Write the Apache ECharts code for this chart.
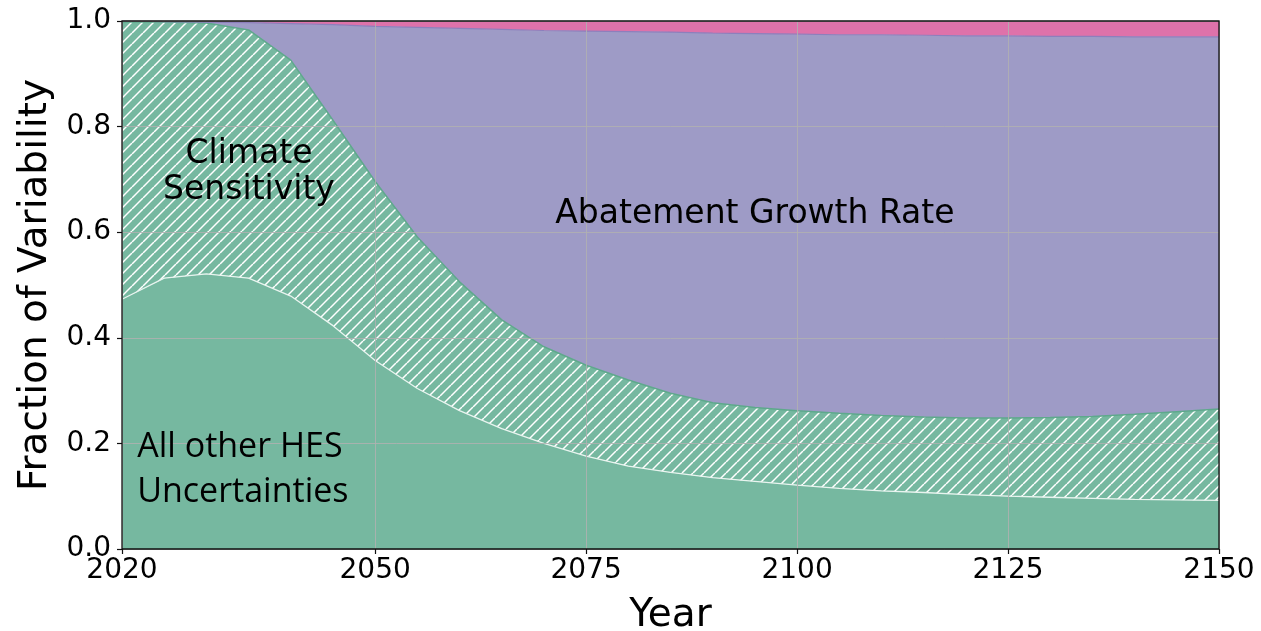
<!DOCTYPE html>
<html>
<head>
<meta charset="utf-8">
<script src="https://cdn.jsdelivr.net/npm/echarts@6/dist/echarts.min.js"></script>
<style>
    html, body { margin: 0; padding: 0; background: #fff; }
    #main { width: 1261px; height: 631px; }
</style>
</head>
<body>
<div id="main"></div>
<script>
'use strict';
// 年份 (every 5 years)
var years = [2020, 2025, 2030, 2035, 2040, 2045, 2050, 2055, 2060, 2065, 2070, 2075, 2080, 2085,
    2090, 2095, 2100, 2105, 2110, 2115, 2120, 2125, 2130, 2135, 2140, 2145, 2150];
// 各来源的方差比例
var hesOther = [0.473, 0.513, 0.521, 0.513, 0.479, 0.423, 0.357, 0.304, 0.262, 0.228, 0.200, 0.176, 0.157, 0.145,
    0.135, 0.128, 0.121, 0.115, 0.110, 0.107, 0.103, 0.100, 0.098, 0.096, 0.094, 0.093, 0.092];
var climateSens = [0.525, 0.485, 0.475, 0.470, 0.447, 0.389, 0.339, 0.287, 0.244, 0.206, 0.183, 0.172, 0.163, 0.150,
    0.142, 0.140, 0.141, 0.142, 0.143, 0.143, 0.145, 0.148, 0.151, 0.155, 0.161, 0.167, 0.173];
var abatement = [0.002, 0.001, 0.002, 0.014, 0.069, 0.181, 0.294, 0.397, 0.480, 0.550, 0.599, 0.633, 0.660, 0.684,
    0.700, 0.708, 0.713, 0.717, 0.721, 0.723, 0.724, 0.724, 0.722, 0.720, 0.715, 0.710, 0.705];
var otherPart = [0.0005, 0.001, 0.002, 0.003, 0.005, 0.007, 0.010, 0.012, 0.014, 0.016, 0.018, 0.019, 0.020, 0.021,
    0.023, 0.024, 0.025, 0.026, 0.026, 0.027, 0.028, 0.028, 0.029, 0.029, 0.030, 0.030, 0.030];
// 坐标轴刻度
var xTicks = [2020, 2050, 2075, 2100, 2125, 2150];

var green = '#76b8a0';
var purple = '#9e9bc6';
var pink = '#de72aa';

// 斜线填充 (hatch tile)
function makeHatch(size) {
    var c = document.createElement('canvas');
    c.width = size;
    c.height = size;
    var ctx = c.getContext('2d');
    ctx.fillStyle = green;
    ctx.fillRect(0, 0, size, size);
    ctx.strokeStyle = '#ffffff';
    ctx.lineWidth = 1.5;
    for (var k = -size; k <= size; k += size) {
        ctx.beginPath();
        ctx.moveTo(k, size);
        ctx.lineTo(k + size, 0);
        ctx.stroke();
    }
    return c;
}

// only the listed years get a tick / label / grid line
function isTick(index) {
    return xTicks.indexOf(years[index]) >= 0;
}

function areaSeries(name, vals, fill, lineColor, lineWidth) {
    return {
        name: name,
        type: 'line',
        stack: 'total',
        showSymbol: false,
        symbol: 'none',
        data: vals,
        lineStyle: { color: lineColor, width: lineWidth },
        areaStyle: { color: fill, opacity: 1 },
        emphasis: { disabled: true }
    };
}

var font = 'DejaVu Sans';
var gridLine = { show: true, lineStyle: { color: 'rgba(176,176,176,0.85)', width: 1 } };

var option = {
    animation: false,
    grid: {
        left: 122, right: 42, top: 21, bottom: 82,
        outerBoundsMode: 'none',
        containLabel: false,
        show: true,
        borderColor: '#111',
        borderWidth: 1.3,
        z: 10
    },
    xAxis: {
        type: 'category',
        data: years,
        boundaryGap: false,
        z: 5,
        name: 'Year',
        nameLocation: 'middle',
        nameGap: 47,
        nameTextStyle: { fontFamily: font, fontSize: 39, color: '#000' },
        axisLine: { show: false },
        axisTick: { show: true, length: 5, interval: isTick, lineStyle: { color: '#111', width: 1.2 } },
        axisLabel: { interval: isTick, fontFamily: font, fontSize: 28, color: '#000', margin: 8 },
        splitLine: { show: true, interval: isTick, lineStyle: gridLine.lineStyle }
    },
    yAxis: {
        type: 'value',
        min: 0,
        max: 1,
        interval: 0.2,
        z: 5,
        name: 'Fraction of Variability',
        nameLocation: 'middle',
        nameGap: 64,
        nameTextStyle: { fontFamily: font, fontSize: 39, color: '#000' },
        axisLine: { show: false },
        axisTick: { show: true, length: 5, lineStyle: { color: '#111', width: 1.2 } },
        axisLabel: {
            fontFamily: font, fontSize: 28, color: '#000', margin: 11,
            formatter: function (v) { return v.toFixed(1); }
        },
        splitLine: gridLine
    },
    series: [
        areaSeries('All other HES Uncertainties', hesOther, green, '#e8f4ef', 1.3),
        areaSeries('Climate Sensitivity', climateSens, { image: makeHatch(11), repeat: 'repeat' }, '#5ea98c', 1.5),
        areaSeries('Abatement Growth Rate', abatement, purple, '#8d7fbc', 1.2),
        areaSeries('Other', otherPart, pink, pink, 0)
    ]
};

var chart = echarts.init(document.getElementById('main'));
chart.setOption(option);

// 区域标注 (labels placed in data coordinates; x interpolated between category ends)
function labelAt(year, y, text, opts) {
    var p0 = chart.convertToPixel({ gridIndex: 0 }, [0, y]);
    var p1 = chart.convertToPixel({ gridIndex: 0 }, [years.length - 1, y]);
    var px = p0[0] + (p1[0] - p0[0]) * (year - years[0]) / (years[years.length - 1] - years[0]);
    return {
        type: 'text',
        x: px,
        y: p0[1],
        z: 20,
        style: {
            text: text,
            fill: '#000',
            font: opts.font,
            lineHeight: opts.lineHeight,
            align: opts.align,
            verticalAlign: 'middle'
        }
    };
}

chart.setOption({
    graphic: [
        labelAt(2035.05, 0.714, 'Climate\nSensitivity', { font: '33px "DejaVu Sans"', lineHeight: 36, align: 'center' }),
        labelAt(2095.0, 0.634, 'Abatement Growth Rate', { font: '33px "DejaVu Sans"', lineHeight: 36, align: 'center' }),
        labelAt(2021.8, 0.150, 'All other HES\nUncertainties', { font: '34px "Open Sans"', lineHeight: 45, align: 'left' })
    ]
});
</script>
</body>
</html>
